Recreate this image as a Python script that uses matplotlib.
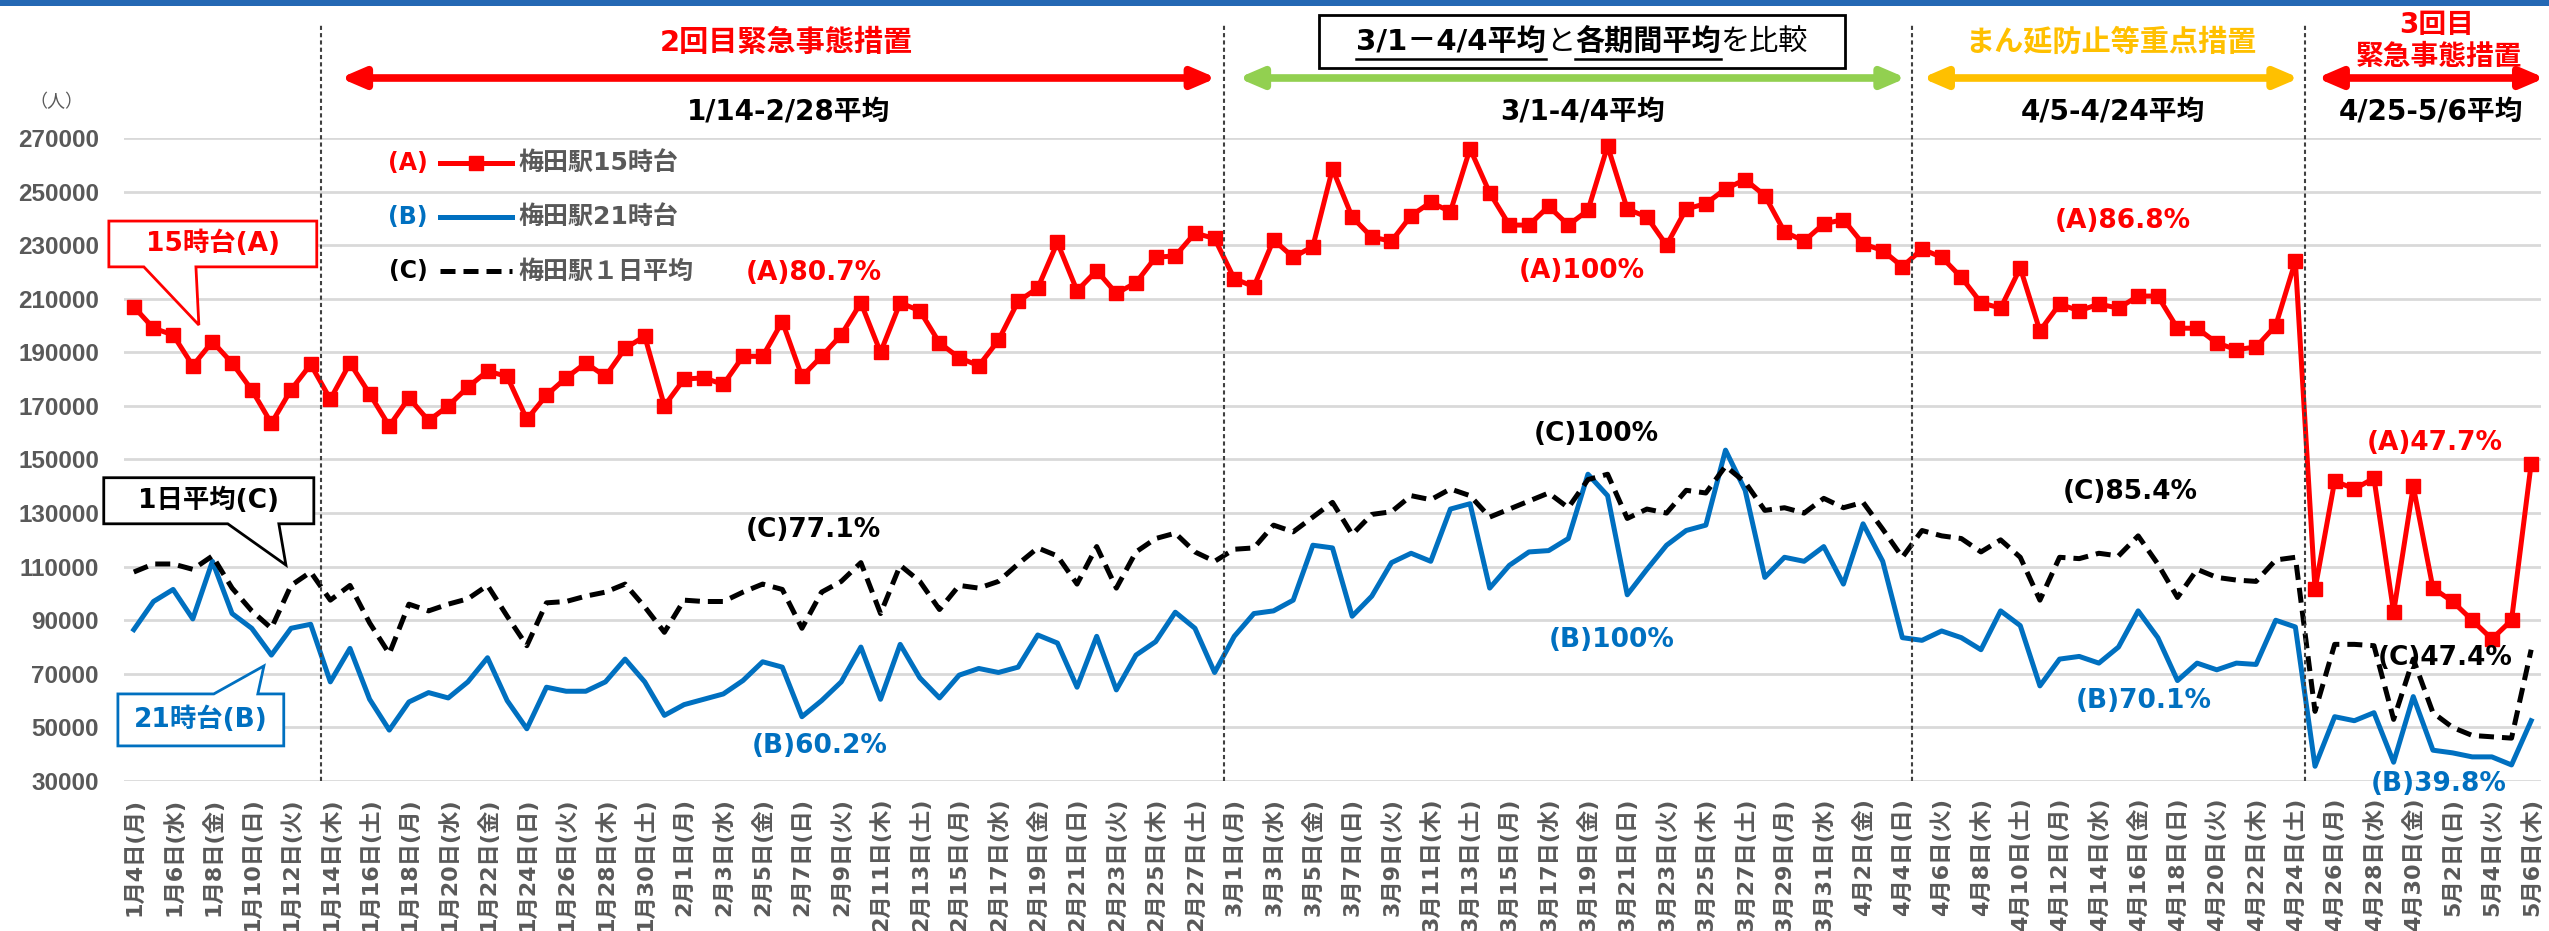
import numpy as np
import pandas as pd
import matplotlib
matplotlib.use("Agg")
import matplotlib.pyplot as plt
from matplotlib.patches import Polygon, Rectangle
from matplotlib.lines import Line2D
from matplotlib import transforms

plt.rcParams['font.family'] = ['DejaVu Sans', 'Noto Sans CJK JP']

# 日付 (2021/1/4 - 5/6)
dates = pd.date_range('2021-01-04', '2021-05-06')
youbi = '月火水木金土日'
date_labels = [f'{d.month}月{d.day}日({youbi[d.weekday()]})' for d in dates]

# 梅田駅15時台 (A)
umeda_15 = [
    207000, 199000, 196500, 185000, 194000, 186000, 176000, 163500, 176000, 185500,
    172500, 186000, 174500, 162500, 173000, 164500, 170000, 177000, 183000, 181000,
    165000, 174000, 180500, 186000, 181000, 191500, 196000, 170000,
    180000, 180500, 178000, 188500, 188500, 201500, 181000, 188500, 196500, 208500,
    190000, 208500, 205500, 193500, 188000, 185000, 194500, 209000, 214000, 231000,
    213000, 220500, 212000, 216000, 225500, 226000, 234500, 232500,
    217500, 214500, 232000, 225500, 229500, 258500, 240500, 233000, 231500, 241000,
    246000, 242500, 266000, 249500, 237500, 237500, 244500, 237500, 243000, 267000,
    243500, 240500, 230000, 243500, 245500, 251000, 254500, 248500, 235000, 231500,
    238000,
    239500, 230500, 228000, 222000, 228500, 225500, 218000, 208500, 206500, 221500,
    198000, 208000, 205500, 208000, 206500, 211000, 211000, 199000, 199000, 193500,
    191000, 192000, 200000, 224000, 101500, 142000, 139000, 143000, 93000, 140000,
    102000, 97000, 90000, 83000, 90000, 148500,
]

# 梅田駅21時台 (B)
umeda_21 = [
    86500, 97000, 101500, 90500, 112000, 92500, 87000, 77000, 87000, 88500,
    67000, 79500, 60500, 49000, 59500, 63000, 61000, 67000, 76000, 60000,
    49500, 65000, 63500, 63500, 67000, 75500, 67000, 54500,
    58500, 60500, 62500, 67500, 74500, 72500, 54000, 60000, 67000, 80000,
    60500, 81000, 68500, 61000, 69500, 72000, 70500, 72500, 84500, 81500,
    65000, 84000, 64000, 77000, 82000, 93000, 87000, 70500,
    84000, 92500, 93500, 97500, 118000, 117000, 91500, 99000, 111500, 115000,
    112000, 131500, 133500, 102000, 110500, 115500, 116000, 120500, 144500, 136500,
    99500, 109000, 118000, 123500, 125500, 153500, 138500, 106000, 113500, 112000,
    117500,
    103500, 126000, 112000, 83500, 82500, 86000, 83500, 79000, 93500, 88000,
    65500, 75500, 76500, 74000, 80000, 93500, 83500, 67500, 74000, 71500,
    74000, 73500, 90000, 87500, 35500, 54000, 52500, 55500, 37000, 61500,
    41500, 40500, 39000, 39000, 36000, 52500,
]

# 梅田駅1日平均 (C)
umeda_day = [
    108000, 111000, 111000, 109000, 114000, 102000, 93500, 87000, 103000, 108000,
    97500, 103000, 89000, 77500, 96000, 93500, 96000, 98000, 103000, 91500,
    80500, 96500, 97000, 99000, 100500, 103500, 95000, 85500,
    97500, 97000, 97000, 100500, 103500, 101500, 87000, 100500, 104500, 111500,
    92500, 110500, 104500, 94000, 103000, 102000, 104500, 111000, 117000, 114000,
    103500, 117500, 102000, 115500, 120500, 122500, 115500, 112000,
    116500, 117000, 125500, 123000, 128500, 134000, 122000, 129500, 130500, 136500,
    135000, 139000, 136500, 128500, 131500, 134500, 137500, 132000, 142500, 144500,
    128000, 131500, 130000, 138500, 137500, 147500, 141500, 131000, 132000, 130000,
    135500,
    132000, 134000, 124000, 113500, 123500, 121500, 120500, 115500, 120000, 113500,
    97500, 113500, 113000, 115000, 114000, 121500, 111000, 98500, 109000, 106000,
    105000, 104500, 112500, 113500, 56000, 81000, 81000, 80500, 53000, 75500,
    55500, 50000, 47000, 46500, 46000, 79000,
]

# 期間の開始日
period_starts = ['2021-01-14', '2021-03-01', '2021-04-05', '2021-04-25']

# 各期間平均との比率 (x位置, y位置, 文字)
pct_A = [(34.6, 219600, '(A)80.7%'), (73.7, 220200, '(A)100%'),
         (101.2, 239000, '(A)86.8%'), (117.1, 156200, '(A)47.7%')]
pct_B = [(34.9, 43100, '(B)60.2%'), (75.2, 82700, '(B)100%'),
         (102.3, 59900, '(B)70.1%'), (117.3, 28900, '(B)39.8%')]
pct_C = [(34.6, 123700, '(C)77.1%'), (74.4, 159500, '(C)100%'),
         (101.6, 137900, '(C)85.4%'), (117.6, 75900, '(C)47.4%')]

W, H = 2549, 931
RED = '#FF0000'
BLUE = '#0070C0'
GREEN = '#92D050'
ORANGE = '#FFC000'
GRAY = '#595959'


def fx(px):
    return px / W


def fy(py):
    return 1 - py / H


fig = plt.figure(figsize=(W / 100, H / 100), dpi=100)
ax = fig.add_axes([fx(124), fy(781), (2541 - 124) / W, (781 - 138) / H])
x = np.arange(len(dates))

ax.plot(x, umeda_15, color=RED, lw=3.6, marker='s', ms=9.5, zorder=3)
ax.plot(x, umeda_21, color=BLUE, lw=3.6, zorder=3)
ax.plot(x, umeda_day, color='black', lw=3.6, dashes=(3, 1.6), zorder=3)

ax.set_xlim(-0.5, len(x) - 0.5)
ax.set_ylim(30000, 270000)
ax.set_yticks(np.arange(30000, 270001, 20000))
ax.yaxis.grid(True, color='#D9D9D9', lw=2)
ax.set_axisbelow(True)
for s in ax.spines.values():
    s.set_visible(False)
ax.set_xticks(x[::2])
ax.set_xticklabels(date_labels[::2], rotation=90, fontsize=16,
                   fontweight='bold', color=GRAY)
ax.tick_params(axis='x', length=0, pad=12)
ax.tick_params(axis='y', length=0, pad=18)
for t in ax.get_yticklabels():
    t.set_fontfamily('Liberation Sans')
    t.set_fontsize(17.5)
    t.set_fontweight('bold')
    t.set_color(GRAY)

# 上の青い帯
fig.add_artist(Rectangle((0, fy(6)), 1, 6 / H, transform=fig.transFigure,
                         color='#2468B4', lw=0))

fig.text(fx(56), fy(102), '（人）', family='Noto Sans CJK JP', fontsize=13,
         color=GRAY, ha='center', va='center')

# 期間の区切り線
hdr = transforms.blended_transform_factory(ax.transData, fig.transFigure)
for d in period_starts:
    xv = dates.get_loc(pd.Timestamp(d)) - 0.5
    fig.add_artist(Line2D([xv, xv], [fy(781), fy(25)], transform=hdr,
                          color='#404040', lw=1.5, ls=(0, (2, 1.5))))

# 期間の矢印と見出し
arrows = [(10.5, 55.1, RED), (56.2, 90.2, GREEN), (91.0, 110.2, ORANGE),
          (111.1, 122.7, RED)]
for a0, a1, c in arrows:
    ax.annotate('', xy=(a1, fy(78)), xytext=(a0, fy(78)),
                xycoords=hdr, textcoords=hdr,
                arrowprops=dict(arrowstyle='<|-|>,head_length=0.7,head_width=0.3',
                                color=c, lw=5.5, mutation_scale=20,
                                shrinkA=0, shrinkB=0))

head = [(33.2, 43, '2回目緊急事態措置', RED, 21),
        (100.6, 43, 'まん延防止等重点措置', ORANGE, 21),
        (117.2, 25, '3回目', RED, 20),
        (117.3, 57, '緊急事態措置', RED, 20),
        (33.3, 112, '1/14-2/28平均', 'black', 20),
        (73.7, 112, '3/1-4/4平均', 'black', 20),
        (100.7, 112, '4/5-4/24平均', 'black', 20),
        (116.9, 112, '4/25-5/6平均', 'black', 20)]
for hx, hy, s, c, fs in head:
    fig.text(hx, fy(hy), s, transform=hdr, color=c, fontsize=fs,
             fontweight='bold', ha='center', va='center')

# 凡例
leg = [(163, RED, '-', 's', '(A)', '梅田駅15時台'),
       (217, BLUE, '-', None, '(B)', '梅田駅21時台'),
       (271.5, 'black', '--', None, '(C)', '梅田駅１日平均')]
for ly, c, ls, mk, tag, name in leg:
    ln = Line2D([fx(440), fx(512)], [fy(ly), fy(ly)], transform=fig.transFigure,
                color=c, lw=3.6)
    if ls == '--':
        ln.set_dashes((3, 1.6))
    fig.add_artist(ln)
    if mk:
        fig.add_artist(Line2D([fx(476)], [fy(ly)], transform=fig.transFigure,
                              color=c, marker=mk, ms=9.5, lw=0))
    fig.text(fx(408), fy(ly), tag, color=c, fontsize=17, fontweight='bold',
             ha='center', va='center')
    fig.text(fx(518), fy(ly), name, color=GRAY, fontsize=18, fontweight='bold',
             ha='left', va='center')

# 比率の文字
for items, c in [(pct_A, RED), (pct_B, BLUE), (pct_C, 'black')]:
    for px_, py_, s in items:
        ax.text(px_, py_, s, color=c, fontsize=19, fontweight='bold',
                ha='center', va='center', zorder=6, clip_on=False)


# 吹き出し
def callout(x0, x1, yb, yt, b0, b1, tip, side, text, c):
    if side == 'bottom':
        pts = [(x0, yt), (x1, yt), (x1, yb), (b1, yb), tip, (b0, yb), (x0, yb)]
    else:
        pts = [(x0, yb), (x1, yb), (x1, yt), (b1, yt), tip, (b0, yt), (x0, yt)]
    ax.add_patch(Polygon(pts, closed=True, facecolor='white', edgecolor=c,
                         lw=2, zorder=7, clip_on=False))
    ax.text((x0 + x1) / 2, (yb + yt) / 2, text, color=c, fontsize=19,
            fontweight='bold', ha='center', va='center', zorder=8)


callout(-1.27, 9.31, 221900, 239000, 0.51, 3.16, (3.31, 200200), 'bottom',
        '15時台(A)', RED)
callout(-1.53, 9.16, 126000, 143200, 4.78, 7.38, (7.74, 110600), 'bottom',
        '1日平均(C)', 'black')
callout(-0.81, 7.63, 43100, 62500, 4.07, 6.31, (6.62, 72950), 'top',
        '21時台(B)', BLUE)

# 枠付きの説明文 (一部に下線)
parts = [('3/1－4/4平均', 'bold', True), ('と', 'normal', False),
         ('各期間平均', 'bold', True), ('を比較', 'normal', False)]
fig.add_artist(Rectangle((fx(1319), fy(68)), (1845 - 1319) / W, 53 / H,
                         transform=fig.transFigure, facecolor='white',
                         edgecolor='black', lw=2))
r = fig.canvas.get_renderer()
texts = []
total = 0
for s, w, ul in parts:
    t = fig.text(0, fy(42), s, fontsize=21, fontweight=w, color='black',
                 ha='left', va='center')
    bb = t.get_window_extent(r)
    texts.append((t, bb.width, ul))
    total += bb.width
cur = 1582 - total / 2
for t, wd, ul in texts:
    t.set_x(fx(cur))
    if ul:
        fig.add_artist(Line2D([fx(cur), fx(cur + wd)], [fy(59), fy(59)],
                              transform=fig.transFigure, color='black', lw=1.8))
    cur += wd

fig.savefig('out.png', dpi=100)
